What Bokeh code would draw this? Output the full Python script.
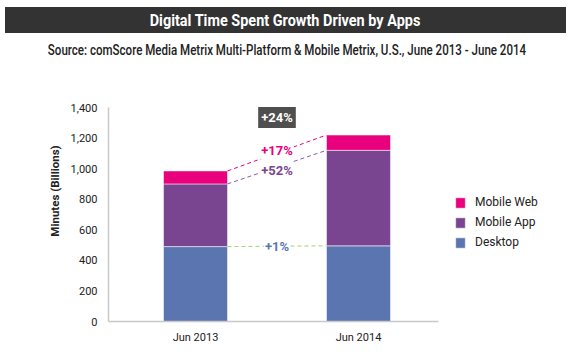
from bokeh.plotting import figure
from bokeh.models import (ColumnDataSource, Div, Legend, LegendItem, Label,
                          Range1d, FixedTicker, NumeralTickFormatter)
from bokeh.layouts import column
from bokeh.embed import file_html
from bokeh.resources import INLINE

# ---------------- data ----------------
title_text = "Digital Time Spent Growth Driven by Apps"
subtitle_text = "Source: comScore Media Metrix Multi-Platform & Mobile Metrix, U.S., June 2013 - June 2014"
categories = ["Jun 2013", "Jun 2014"]
desktop = [490, 495]
mobile_app = [410, 625]
mobile_web = [85, 100]
series_names = ["Desktop", "Mobile App", "Mobile Web"]
growth_labels = ["+1%", "+52%", "+17%"]
total_growth = "+24%"
y_ticks = [0, 200, 400, 600, 800, 1000, 1200, 1400]
y_axis_title = "Minutes (Billions)"

# ---------------- style ----------------
FONT = "Roboto"
colors = ["#5b75b0", "#7a4590", "#e8007d"]
line_colors = ["#a4d07a", "#8a5aa8", "#e8007d"]
label_colors = ["#5a77b6", "#7a4590", "#e8007d"]
label_offsets = [0, -22, 16]     # data-unit nudges of the growth labels

W = 573
FIG_H = 301
FRAME_LEFT = 108
FRAME_BOTTOM_PAD = 40
FRAME_H = FIG_H - FRAME_BOTTOM_PAD
PX_PER_UNIT_Y = 30.57 / 200.0
PX_PER_CAT = 163.0
FIRST_CAT_PX = 87.0
BAR_W = 64.0 / PX_PER_CAT

xs = [i + 1 for i in range(len(categories))]
x_start = 1 - FIRST_CAT_PX / PX_PER_CAT
x_end = x_start + (W - FRAME_LEFT) / PX_PER_CAT
y_end = FRAME_H / PX_PER_UNIT_Y

src = ColumnDataSource(dict(x=xs, desktop=desktop, app=mobile_app, web=mobile_web))

p = figure(width=W, height=FIG_H, output_backend="svg", toolbar_location=None,
           x_range=Range1d(x_start, x_end), y_range=Range1d(0, y_end),
           min_border_left=FRAME_LEFT, min_border_right=0, min_border_top=0,
           min_border_bottom=FRAME_BOTTOM_PAD)
p.title.visible = False
p.outline_line_color = None
p.xgrid.visible = False
p.ygrid.visible = False

rs = p.vbar_stack(["desktop", "app", "web"], x="x", width=BAR_W, color=colors,
                  line_color="#ffffff", line_alpha=0.5, line_width=1, source=src)

stacks = [desktop, mobile_app, mobile_web]
cum0, cum1 = 0, 0
for i, s in enumerate(stacks):
    cum0 += s[0]
    cum1 += s[1]
    p.segment(x0=[xs[0] + BAR_W / 2], y0=[cum0], x1=[xs[1] - BAR_W / 2], y1=[cum1],
              line_color=line_colors[i], line_dash="4 3", line_width=1)
    p.add_layout(Label(x=(xs[0] + xs[1]) / 2, y=(cum0 + cum1) / 2 + label_offsets[i],
                       text=growth_labels[i], text_color=label_colors[i], text_align="center",
                       text_baseline="middle", text_font=FONT, text_font_style="bold",
                       text_font_size="13px", background_fill_color="white", padding=1))

p.add_layout(Label(x=(xs[0] + xs[1]) / 2, y=1335, text=total_growth, text_color="white",
                   text_align="center", text_baseline="middle", text_font=FONT,
                   text_font_style="bold", text_font_size="13px",
                   background_fill_color="#4f4f4f", padding=3))

p.yaxis.ticker = FixedTicker(ticks=y_ticks)
p.yaxis.formatter = NumeralTickFormatter(format="0,0")
p.yaxis.bounds = (0, y_ticks[-1])
p.yaxis.axis_label = y_axis_title
p.yaxis.axis_label_text_font = FONT
p.yaxis.axis_label_text_font_style = "bold"
p.yaxis.axis_label_text_font_size = "11.5px"
p.yaxis.axis_label_text_color = "#222222"
p.yaxis.axis_label_standoff = 6

p.xaxis.ticker = FixedTicker(ticks=xs)
p.xaxis.major_label_overrides = {x: c for x, c in zip(xs, categories)}
p.xaxis.bounds = (x_start, x_start + 330 / PX_PER_CAT)

for ax in (p.xaxis, p.yaxis):
    ax.axis_line_color = "#c8c8c8"
    ax.axis_line_width = 1.5
    ax.major_tick_line_color = None
    ax.minor_tick_line_color = None
    ax.major_tick_out = 0
    ax.major_tick_in = 0
    ax.major_label_text_font = FONT
    ax.major_label_text_font_size = "11px"
    ax.major_label_text_color = "#222222"
p.yaxis.major_label_standoff = 11
p.xaxis.major_label_standoff = 9

legend = Legend(items=[LegendItem(label=series_names[i], renderers=[rs[i]]) for i in (2, 1, 0)],
                location=(346, 72), padding=0, margin=0, spacing=6,
                glyph_width=12, glyph_height=13, label_height=14, label_standoff=9,
                border_line_color=None, background_fill_alpha=0,
                label_text_font=FONT, label_text_font_size="12px", label_text_color="#222222")
p.add_layout(legend)

title_div = Div(width=W, height=40, margin=0, text=(
    f'<div style="position:relative;width:{W}px;height:40px;">'
    f'<div style="position:absolute;left:5px;top:7px;width:561px;height:26px;background:#333333;"></div>'
    f'<span style="position:absolute;left:284.5px;top:19.5px;white-space:nowrap;line-height:1;'
    f'transform:translate(-50%,-50%) scaleX(0.85);color:#ffffff;font-family:{FONT};'
    f'font-weight:bold;font-size:17px;">{title_text}</span></div>'))
sub_div = Div(width=W, height=20, margin=0, text=(
    f'<div style="position:relative;width:{W}px;height:20px;">'
    f'<span style="position:absolute;left:286.5px;top:9.5px;white-space:nowrap;line-height:1;'
    f'transform:translate(-50%,-50%) scaleX(0.77);color:#222222;font-family:{FONT};'
    f'font-weight:500;font-size:15px;">{subtitle_text.replace("&", "&amp;")}</span></div>'))

layout = column(title_div, sub_div, p, spacing=0)
open("out.html", "w").write(file_html(layout, INLINE))
